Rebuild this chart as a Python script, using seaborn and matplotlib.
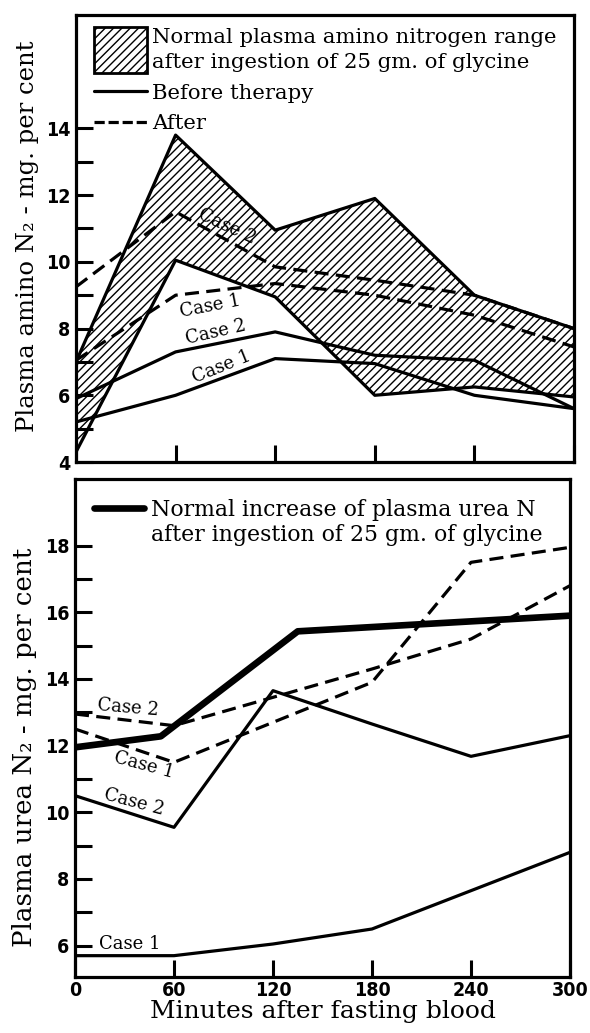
import numpy as np
import pandas as pd
import matplotlib
matplotlib.use("Agg")
import matplotlib.pyplot as plt
import matplotlib.patches as mpatches
from matplotlib.lines import Line2D
from matplotlib.legend_handler import HandlerPatch
from matplotlib.ticker import FixedLocator
import seaborn as sns

# ---------------- data ----------------
minutes = [0, 60, 120, 180, 240, 300]

# top panel: plasma amino N (mg per cent)
amino_normal_upper = [7.0, 13.8, 10.95, 11.9, 9.0, 8.0]
amino_normal_lower = [4.3, 10.05, 8.95, 6.0, 6.25, 5.95]
amino_case1_before = [5.2, 6.0, 7.1, 6.95, 6.0, 5.6]
amino_case2_before = [5.9, 7.3, 7.9, 7.2, 7.05, 5.6]
amino_case1_after = [7.05, 9.0, 9.35, 9.0, 8.4, 7.45]
amino_case2_after = [9.25, 11.5, 9.85, 9.45, 9.0, 8.0]

# bottom panel: plasma urea N (mg per cent)
urea_normal_minutes = [0, 52, 135, 300]
urea_normal = [11.95, 12.28, 15.43, 15.9]
urea_case1_before = [5.7, 5.7, 6.05, 6.5, 7.65, 8.8]
urea_case2_before = [10.5, 9.55, 13.65, 12.65, 11.68, 12.3]
urea_case1_after = [12.5, 11.5, 12.7, 13.9, 17.5, 17.95]
urea_case2_after = [12.95, 12.6, 13.45, 14.3, 15.2, 16.8]

x_ticks = [0, 60, 120, 180, 240, 300]
amino_major = [4, 6, 8, 10, 12, 14]
amino_minor = [5, 7, 9, 11, 13]
urea_major = [6, 8, 10, 12, 14, 16, 18]
urea_minor = [7, 9, 11, 13, 15, 17]

legend_top = ["Normal plasma amino nitrogen range\nafter ingestion of 25 gm. of glycine",
              "Before therapy", "After"]
legend_bottom = ["Normal increase of plasma urea N",
                 "after ingestion of 25 gm. of glycine"]

# ---------------- style ----------------
sns.set_theme(style="ticks")
plt.rcParams["font.family"] = ["DejaVu Serif", "DejaVu Sans"]
for k in ("text.color", "axes.labelcolor", "xtick.color", "ytick.color", "axes.edgecolor"):
    plt.rcParams[k] = "black"
plt.rcParams["hatch.linewidth"] = 1.0
LABEL = 17.5
TICKFONT = dict(family=["Liberation Sans Narrow", "DejaVu Sans"], weight="bold",
                size=14, stretch="condensed", color="black")
LW = 2.3
DASH = (0, (4.4, 2.3))

fig = plt.figure(figsize=(5.9, 10.33), dpi=100)
W, H = 590.0, 1033.0
ax1 = fig.add_axes([76 / W, 1 - 462 / H, (574 - 76) / W, (462 - 15) / H])
ax2 = fig.add_axes([75 / W, 1 - 977 / H, (570 - 75) / W, (977 - 479) / H])


def style_axes(ax, major, minor, ylim):
    ax.set_xlim(0, 300)
    ax.set_ylim(*ylim)
    for s in ax.spines.values():
        s.set_linewidth(2.3)
        s.set_color("black")
    ax.xaxis.set_major_locator(FixedLocator(x_ticks))
    ax.yaxis.set_major_locator(FixedLocator(major))
    ax.yaxis.set_minor_locator(FixedLocator(minor))
    ax.tick_params(axis="both", which="both", direction="in", length=12, width=2.2, color="black")
    ax.tick_params(axis="y", which="major", pad=4)
    for lab in ax.get_yticklabels():
        lab.set(**TICKFONT)
    ax.grid(False)


# ---------------- top panel ----------------
ax1.fill_between(minutes, amino_normal_lower, amino_normal_upper, facecolor="none",
                 edgecolor="black", hatch="////", linewidth=0)
sns.lineplot(x=minutes, y=amino_normal_upper, ax=ax1, color="black", lw=LW, sort=False)
sns.lineplot(x=minutes, y=amino_normal_lower, ax=ax1, color="black", lw=LW, sort=False)
for ys in (amino_case1_before, amino_case2_before):
    sns.lineplot(x=minutes, y=ys, ax=ax1, color="black", lw=LW, sort=False)
for ys in (amino_case1_after, amino_case2_after):
    sns.lineplot(x=minutes, y=ys, ax=ax1, color="black", lw=LW, sort=False, linestyle=DASH)

style_axes(ax1, amino_major, amino_minor, (4, 17.4))
ax1.set_xticklabels([])
ax1.set_xlabel("")
ax1.set_ylabel("Plasma amino N\u2082 - mg. per cent", fontsize=LABEL, color="black")
ax1.yaxis.set_label_coords(-0.075, 0.505)

case_kw = dict(fontsize=13, ha="center", va="center", color="black")
ax1.text(91, 11.06, "Case 2", rotation=-25, **case_kw)
ax1.text(81, 8.68, "Case 1", rotation=11, **case_kw)
ax1.text(84, 7.9, "Case 2", rotation=13, **case_kw)
ax1.text(88, 6.85, "Case 1", rotation=22, **case_kw)


class TallPatchHandler(HandlerPatch):
    def create_artists(self, legend, orig_handle, xdescent, ydescent, width, height,
                       fontsize, trans):
        h = fontsize * 2.2
        cy = -ydescent + height / 2
        p = mpatches.Rectangle((-xdescent, cy - h / 2), width, h, facecolor="white",
                               edgecolor="black", hatch="////", lw=2.0)
        p.set_transform(trans)
        return [p]


hatch_handle = mpatches.Patch(facecolor="white", edgecolor="black", hatch="////")
h_before = Line2D([], [], color="black", lw=LW)
h_after = Line2D([], [], color="black", lw=LW, linestyle=(0, (3.2, 1.2)))
leg1 = ax1.legend([hatch_handle, h_before, h_after], legend_top, loc="upper left",
                  bbox_to_anchor=(0.02, 0.99), frameon=False, fontsize=15.3,
                  handlelength=2.45, handletextpad=0.25, labelspacing=0.55,
                  borderaxespad=0, handler_map={mpatches.Patch: TallPatchHandler()})
for t in leg1.get_texts():
    t.set_linespacing(1.4)

# ---------------- bottom panel ----------------
sns.lineplot(x=urea_normal_minutes, y=urea_normal, ax=ax2, color="black", lw=4.8, sort=False)
for ys in (urea_case1_before, urea_case2_before):
    sns.lineplot(x=minutes, y=ys, ax=ax2, color="black", lw=LW, sort=False)
for ys in (urea_case1_after, urea_case2_after):
    sns.lineplot(x=minutes, y=ys, ax=ax2, color="black", lw=LW, sort=False, linestyle=DASH)

style_axes(ax2, urea_major, urea_minor, (5.06, 20.0))
ax2.set_xticks(x_ticks)
ax2.set_xticklabels([str(t) for t in x_ticks])
for lab in ax2.get_xticklabels():
    lab.set(**TICKFONT)
ax2.tick_params(axis="x", pad=3)
ax2.set_xlabel("Minutes after fasting blood", fontsize=LABEL + 0.5, color="black", labelpad=0)
ax2.set_ylabel("Plasma urea N\u2082 - mg. per cent", fontsize=LABEL + 1.3, color="black")
ax2.yaxis.set_label_coords(-0.077, 0.462)

ax2.text(32, 13.15, "Case 2", rotation=-5, **case_kw)
ax2.text(42, 11.42, "Case 1", rotation=-15, **case_kw)
ax2.text(36, 10.3, "Case 2", rotation=-15, **case_kw)
ax2.text(33, 6.05, "Case 1", rotation=0, **case_kw)

h_normal = Line2D([], [], color="black", lw=4.8)
h_blank = Line2D([], [], color="none", lw=0)
ax2.legend([h_normal, h_blank], legend_bottom, loc="upper left",
           bbox_to_anchor=(0.02, 0.978), frameon=False, fontsize=15.8,
           handlelength=2.3, handletextpad=0.3, labelspacing=0.15, borderaxespad=0)

fig.savefig("out.png", dpi=100, facecolor="white")
